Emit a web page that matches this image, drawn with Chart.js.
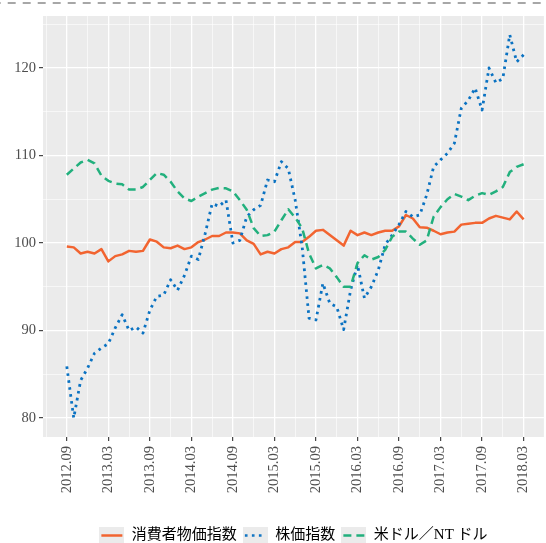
<!DOCTYPE html>
<html>
<head>
<meta charset="utf-8">
<script src="https://cdn.jsdelivr.net/npm/chart.js@4.4.1/dist/chart.umd.min.js"></script>
<style>
  html, body { margin: 0; padding: 0; background: #fff; }
  #wrap { width: 546px; height: 543px; }
</style>
</head>
<body>
<div id="wrap"><canvas id="chart" width="546" height="543"></canvas></div>
<script>
// monthly, 2012.09 - 2018.03
const months = [
  '2012.09','2012.10','2012.11','2012.12',
  '2013.01','2013.02','2013.03','2013.04','2013.05','2013.06','2013.07','2013.08','2013.09','2013.10','2013.11','2013.12',
  '2014.01','2014.02','2014.03','2014.04','2014.05','2014.06','2014.07','2014.08','2014.09','2014.10','2014.11','2014.12',
  '2015.01','2015.02','2015.03','2015.04','2015.05','2015.06','2015.07','2015.08','2015.09','2015.10','2015.11','2015.12',
  '2016.01','2016.02','2016.03','2016.04','2016.05','2016.06','2016.07','2016.08','2016.09','2016.10','2016.11','2016.12',
  '2017.01','2017.02','2017.03','2017.04','2017.05','2017.06','2017.07','2017.08','2017.09','2017.10','2017.11','2017.12',
  '2018.01','2018.02','2018.03'
];

const cpi = [
  99.6, 99.5, 98.8, 99.0, 98.8, 99.3, 97.9, 98.5, 98.7, 99.1, 99.0, 99.1,
  100.4, 100.15, 99.5, 99.4, 99.7, 99.3, 99.5, 100.1, 100.4, 100.8, 100.8, 101.2,
  101.2, 101.1, 100.3, 99.9, 98.7, 99.0, 98.8, 99.3, 99.5, 100.1, 100.1, 100.7,
  101.4, 101.5, 100.9, 100.3, 99.7, 101.4, 100.9, 101.2, 100.9, 101.2, 101.4, 101.4,
  101.9, 103.2, 102.8, 101.8, 101.75, 101.4, 101.0, 101.2, 101.3, 102.1, 102.2, 102.3,
  102.3, 102.8, 103.1, 102.9, 102.7, 103.6, 102.7
];

const stock = [
  85.9, 80.0, 84.3, 85.7, 87.4, 88.0, 88.5, 90.3, 91.8, 90.0, 90.4, 89.7,
  92.3, 93.9, 94.05, 95.8, 94.6, 96.3, 98.5, 98.1, 101.1, 104.5, 104.2, 104.9,
  100.0, 100.3, 103.0, 103.8, 104.3, 107.2, 107.0, 109.3, 108.5, 104.9, 99.6, 91.4,
  91.2, 95.4, 93.1, 92.7, 90.1, 94.6, 97.5, 93.7, 95.0, 96.9, 99.8, 100.9,
  102.1, 103.6, 103.0, 103.2, 105.5, 108.7, 109.5, 110.25, 111.4, 115.4, 116.3, 117.7,
  115.2, 120.0, 118.3, 118.8, 123.8, 120.7, 121.5
];

const usdNtd = [
  107.8, 108.5, 109.2, 109.5, 109.1, 107.7, 107.1, 106.8, 106.7, 106.1, 106.1, 106.4,
  107.2, 108.0, 107.8, 107.0, 105.9, 105.1, 104.8, 105.3, 105.7, 106.1, 106.3, 106.25,
  105.9, 104.9, 103.8, 101.7, 100.8, 100.9, 101.3, 102.6, 103.85, 102.9, 101.7, 98.8,
  97.1, 97.5, 97.1, 96.1, 95.0, 95.0, 97.7, 98.6, 98.1, 98.4, 99.2, 100.7,
  101.3, 101.3, 100.5, 99.8, 100.3, 103.0, 104.1, 105.0, 105.6, 105.3, 104.9, 105.4,
  105.7, 105.5, 105.9, 106.4, 108.1, 108.7, 109.0
];

const xTickLabels = ['2012.09','2013.03','2013.09','2014.03','2014.09','2015.03',
  '2015.09','2016.03','2016.09','2017.03','2017.09','2018.03'];
const yTickLabels = ['80', '90', '100', '110', '120'];

const seriesNames = ['消費者物価指数', '株価指数', '米ドル／NT ドル'];
const seriesColors = ['#f26430', '#0a72c2', '#22b07d'];
const seriesDash = [[], [2.6, 4.4], [8, 5]];

const tickFont = { family: "'Liberation Serif', 'DejaVu Serif', serif", size: 14.5 };
const legendFont = { family: "'Liberation Serif', 'Noto Sans CJK JP', serif", size: 15 };

function toPoints(arr) {
  return arr.map((v, i) => ({ x: i, y: v }));
}

function makeKey(color, dash) {
  const c = document.createElement('canvas');
  c.width = 25; c.height = 17;
  const g = c.getContext('2d');
  g.fillStyle = '#ebebeb';
  g.fillRect(0, 0, 25, 17);
  g.strokeStyle = color;
  g.lineWidth = 2.5;
  g.setLineDash(dash);
  g.beginPath();
  g.moveTo(2, 8.5);
  g.lineTo(23, 8.5);
  g.stroke();
  return c;
}

const panelBg = {
  id: 'panelBg',
  beforeDraw(chart) {
    const { ctx, chartArea: a } = chart;
    ctx.save();
    ctx.fillStyle = '#ffffff';
    ctx.fillRect(0, 0, chart.width, chart.height);
    ctx.fillStyle = '#ebebeb';
    ctx.fillRect(a.left, a.top, a.right - a.left, a.bottom - a.top);
    ctx.restore();
  },
  afterDraw(chart) {
    // dashed rule along the top edge
    const ctx = chart.ctx;
    ctx.save();
    ctx.strokeStyle = '#8a8a8a';
    ctx.lineWidth = 1.4;
    ctx.setLineDash([8, 7]);
    ctx.lineDashOffset = 7.3;
    ctx.beginPath();
    ctx.moveTo(0, 3);
    ctx.lineTo(chart.width, 3);
    ctx.stroke();
    ctx.restore();
  }
};

const datasets = [cpi, stock, usdNtd].map((arr, i) => ({
  label: seriesNames[i],
  data: toPoints(arr),
  borderColor: seriesColors[i],
  borderWidth: i === 1 ? 2.8 : 2.5,
  borderDash: seriesDash[i],
  borderJoinStyle: 'round',
  pointRadius: 0,
  tension: 0,
  fill: false,
  order: 3 - i
}));

new Chart(document.getElementById('chart'), {
  type: 'line',
  data: { labels: months, datasets: datasets },
  options: {
    responsive: false,
    animation: false,
    layout: { padding: { top: 16, bottom: -10, left: 0, right: 0 } },
    scales: {
      x: {
        type: 'linear',
        min: -3.44,
        max: 68.93,
        afterBuildTicks: (scale) => {
          const t = [];
          for (let v = -3; v <= scale.max; v += 3) t.push({ value: v });
          scale.ticks = t;
        },
        afterFit: (scale) => { scale.height = 85; },
        border: { display: false },
        grid: {
          color: '#ffffff',
          lineWidth: (c) => (c.tick && c.tick.value % 6 === 0 ? 1.3 : 0.6),
          drawTicks: true,
          tickLength: 4,
          tickWidth: 1.1,
          tickColor: (c) => (c.tick && c.tick.value % 6 === 0 ? '#333333' : 'rgba(0,0,0,0)')
        },
        ticks: {
          autoSkip: false,
          minRotation: 90,
          maxRotation: 90,
          padding: 5,
          color: '#4d4d4d',
          font: tickFont,
          callback: (v) => (v % 6 === 0 && v >= 0 ? xTickLabels[v / 6] : '')
        }
      },
      y: {
        min: 77.83,
        max: 125.94,
        afterBuildTicks: (scale) => {
          const t = [];
          for (let v = 80; v <= scale.max; v += 5) t.push({ value: v });
          scale.ticks = t;
        },
        afterFit: (scale) => { scale.width = 43; },
        border: { display: false },
        grid: {
          color: '#ffffff',
          lineWidth: (c) => (c.tick && c.tick.value % 10 === 0 ? 1.3 : 0.6),
          drawTicks: true,
          tickLength: 4,
          tickWidth: 1.1,
          tickColor: (c) => (c.tick && c.tick.value % 10 === 0 ? '#333333' : 'rgba(0,0,0,0)')
        },
        ticks: {
          padding: 3,
          color: '#4d4d4d',
          font: tickFont,
          callback: (v) => (v % 10 === 0 ? yTickLabels[(v - 80) / 10] : '')
        }
      }
    },
    plugins: {
      tooltip: { enabled: false },
      legend: {
        position: 'bottom',
        fullSize: false,
        labels: {
          usePointStyle: true,
          pointStyleWidth: 25,
          padding: 6,
          color: '#1a1a1a',
          font: legendFont,
          generateLabels: () => seriesNames.map((name, i) => ({
            text: name,
            pointStyle: makeKey(seriesColors[i], seriesDash[i]),
            fillStyle: seriesColors[i],
            strokeStyle: seriesColors[i],
            lineWidth: 0,
            hidden: false,
            datasetIndex: i
          }))
        }
      }
    }
  },
  plugins: [panelBg]
});
</script>
</body>
</html>
